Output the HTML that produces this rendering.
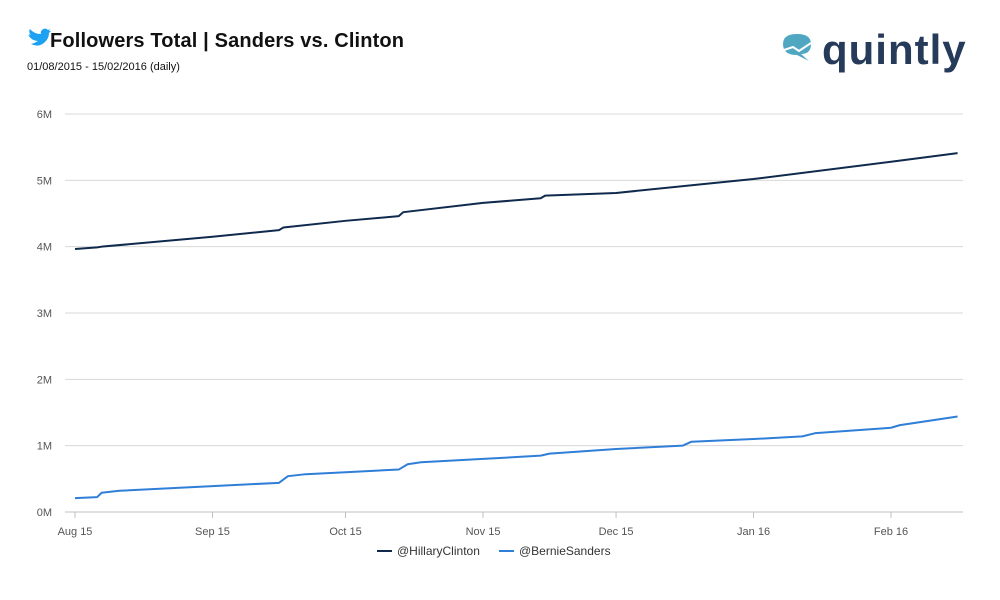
<!DOCTYPE html>
<html><head><meta charset="utf-8"><style>
body{margin:0;background:#fff;font-family:"Liberation Sans",sans-serif}
svg{display:block}
</style></head><body>
<svg id="c" width="1000" height="600">
<g><path d="M28 35 q4 6 10 6 q-3 2 -7 3 q8 4 14 -2 q4 -4 4 -9 l2 -2 l-2 0 l1 -2 l-2 1 q-3 -3 -6 0 q-2 2 -1 4 q-7 0 -11 -5 q-2 3 1 6 l-2 -1 q0 3 3 4 z" fill="#1da1f2"/></g>
<text x="50" y="47" font-size="20" font-weight="bold" fill="#111" letter-spacing="0.15">Followers Total | Sanders vs. Clinton</text>
<text x="27" y="70" font-size="11" fill="#111">01/08/2015 - 15/02/2016 (daily)</text>
<g>
<path d="M783 44 q0 -10 14 -10 q14 0 14 10 q0 10 -10 10 l8 7 l-12 -6 q-14 0 -14 -11 z" fill="#4fa7c2"/>
<path d="M784 50 l9 -3 l6 4 l12 -8" stroke="#fff" stroke-width="2" fill="none"/>
<text x="822" y="64" font-size="42" font-weight="bold" fill="#263a5a" letter-spacing="1">quintly</text>
</g>
<g id="grid"></g><g id="axes"></g><g id="series"></g>
<g>
<g><line x1="377" y1="551" x2="392" y2="551" stroke="#0f2a4d" stroke-width="2"/><text x="397" y="555" font-size="12" fill="#333">@HillaryClinton</text></g>
<g><line x1="499" y1="551" x2="514" y2="551" stroke="#2f7ed8" stroke-width="2"/><text x="519" y="555" font-size="12" fill="#333">@BernieSanders</text></g>
</g>
</svg>
<script>
const yTicks=[0,1,2,3,4,5,6];
const xTickDays=[0,31,61,92,122,153,184];
const xTickLabels=["Aug 15","Sep 15","Oct 15","Nov 15","Dec 15","Jan 16","Feb 16"];
const clintonDays=[0,5,6,31,46,47,61,73,74,92,105,106,122,153,184,199];
const clintonVals=[3.965,3.99,4.0,4.15,4.25,4.29,4.39,4.46,4.52,4.66,4.73,4.77,4.81,5.02,5.28,5.41];
const sandersDays=[0,5,6,10,31,46,48,52,61,73,75,78,92,105,107,122,137,139,153,164,167,184,186,190,199];
const sandersVals=[0.21,0.225,0.29,0.32,0.39,0.44,0.54,0.57,0.6,0.64,0.72,0.75,0.8,0.85,0.88,0.95,1.0,1.06,1.1,1.14,1.19,1.27,1.31,1.35,1.44];
const NS="http://www.w3.org/2000/svg";
const X=d=>75+d*4.435, Y=v=>512-v*66.33;
function mk(t,a,p){const e=document.createElementNS(NS,t);for(const k in a)e.setAttribute(k,a[k]);p.appendChild(e);return e;}
const grid=document.getElementById('grid'),axes=document.getElementById('axes'),ser=document.getElementById('series');
yTicks.forEach(v=>{
 const l=mk('line',{x1:65,x2:963,y1:Y(v),y2:Y(v),stroke:v?'#d8d8d8':'#c0c0c0','stroke-width':1},grid);
 
 
 const t=mk('text',{x:52,y:Y(v)+4,'font-size':11,fill:'#555','text-anchor':'end'},axes);
 t.textContent=v+'M';
 
 
});
xTickDays.forEach((d,i)=>{
 const l=mk('line',{x1:X(d),x2:X(d),y1:512,y2:518,stroke:'#c0c0c0'},axes);
 
 
 const t=mk('text',{x:X(d),y:535,'font-size':11,fill:'#555','text-anchor':'middle'},axes);
 t.textContent=xTickLabels[i];
 
 
});
function line(days,vals,col,name){
 const p=mk('polyline',{points:days.map((d,i)=>X(d)+','+Y(vals[i])).join(' '),fill:'none',stroke:col,'stroke-width':2,'stroke-linejoin':'round'},ser);
 
 
}
line(clintonDays,clintonVals,'#0f2a4d','clinton-line');
line(sandersDays,sandersVals,'#2f7ed8','sanders-line');
</script>
</body></html>
